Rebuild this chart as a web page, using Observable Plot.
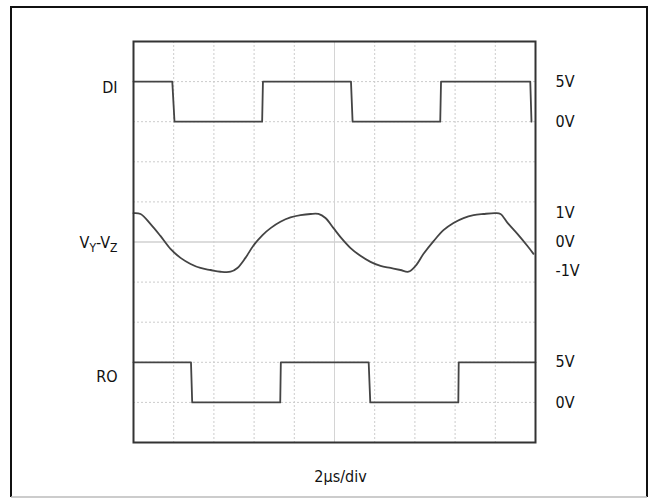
<!DOCTYPE html>
<html><head><meta charset="utf-8">
<script src="https://cdn.jsdelivr.net/npm/d3@7"></script>
<script src="https://cdn.jsdelivr.net/npm/@observablehq/plot@0.6"></script>
<style>body{margin:0;background:#fff} svg{display:block}</style>
</head><body><div id="chart"></div>
<script>
// time in microseconds (2 µs/div, 10 divisions)
const timeGrid = [0, 2, 4, 6, 8, 10, 12, 14, 16, 18, 20];
const divGrid = [0, 1, 2, 3, 4, 5, 6, 7, 8, 9, 10];

// DI trace (volts)
const diT = [0, 1.93, 2.04, 6.40, 6.44, 10.82, 10.90, 15.26, 15.30, 19.74, 19.80];
const diV = [5, 5, 0, 0, 5, 5, 0, 0, 5, 5, 0];

// VY-VZ trace (volts)
const vyT = [0, 0.35, 0.85, 1.34, 1.84, 2.34, 2.84, 3.33, 3.83, 4.33, 4.83, 5.17, 5.57, 5.97, 6.42, 6.82, 7.31, 7.81, 8.31, 8.81, 9.20, 9.55, 9.95, 10.30, 10.80, 11.29, 11.79, 12.29, 12.79, 13.28, 13.68, 14.03, 14.43, 14.93, 15.42, 15.92, 16.42, 16.92, 17.41, 18.01, 18.26, 18.61, 19.10, 19.60, 19.90];
const vyV = [1.00, 0.97, 0.62, 0.21, -0.24, -0.55, -0.76, -0.90, -0.97, -1.03, -1.03, -0.90, -0.55, -0.12, 0.24, 0.48, 0.70, 0.85, 0.93, 0.97, 0.97, 0.83, 0.48, 0.17, -0.21, -0.48, -0.69, -0.83, -0.90, -0.97, -1.03, -0.83, -0.41, 0.03, 0.41, 0.66, 0.83, 0.93, 0.97, 1.00, 0.97, 0.66, 0.28, -0.14, -0.41];

// RO trace (volts)
const roT = [0, 2.86, 2.92, 7.30, 7.33, 11.70, 11.78, 16.16, 16.18, 20];
const roV = [5, 5, 0, 0, 5, 5, 0, 0, 5, 5];

// channel labels and scale labels
const channelNames = ["DI", "VY-VZ", "RO"];
const diLevels = [5, 0];
const vyLevels = [1, 0, -1];
const roLevels = [5, 0];
const levelText = v => `${v}V`;
const timebase = "2µs/div";

// vertical placement of each channel on the 10-division screen
const diPos = v => 8 + v / 5;        // 5 V/div, 0 V at division 8
const vyPos = v => 5 + v * 0.72;     // 0 V at centre line
const roPos = v => 1 + v / 5;        // 5 V/div, 0 V at division 1

const FONT = "'Liberation Sans Narrow','DejaVu Sans Condensed','Arial Narrow',sans-serif";
const ink = "#444";

const toRows = (T, V) => T.map((t, i) => ({t, v: V[i]}));

const rightLabels = [
  ...diLevels.map(v => ({y: diPos(v), s: levelText(v)})),
  ...vyLevels.map(v => ({y: vyPos(v), s: levelText(v)})),
  ...roLevels.map(v => ({y: roPos(v), s: levelText(v)}))
];

const chart = Plot.plot({
  width: 649,
  height: 501,
  marginLeft: 133,
  marginRight: 114,
  marginTop: 41,
  marginBottom: 59,
  style: {fontFamily: FONT, background: "#fff"},
  x: {domain: [0, 20], axis: null},
  y: {domain: [0, 10], axis: null},
  marks: [
    Plot.ruleX(timeGrid.filter(t => t !== 10), {stroke: "#cccccc", strokeDasharray: "2,2", strokeWidth: 1}),
    Plot.ruleY(divGrid.filter(d => d !== 5), {stroke: "#cccccc", strokeDasharray: "2,2", strokeWidth: 1}),
    Plot.ruleX([10], {stroke: "#d4d4d4", strokeWidth: 1}),
    Plot.ruleY([5], {stroke: "#d0d0d0", strokeWidth: 1.5}),
    Plot.line(toRows(diT, diV), {x: "t", y: d => diPos(d.v), stroke: ink, strokeWidth: 1.8}),
    Plot.line(toRows(vyT, vyV), {x: "t", y: d => vyPos(d.v), stroke: ink, strokeWidth: 1.8, curve: "catmull-rom"}),
    Plot.line(toRows(roT, roV), {x: "t", y: d => roPos(d.v), stroke: ink, strokeWidth: 1.8}),
    Plot.frame({stroke: "#333", strokeWidth: 2}),
    // channel names on the left
    Plot.text([channelNames[0]], {frameAnchor: "left", y: diPos(5), text: d => d, textAnchor: "end", dx: -16, dy: 6, fontSize: 16, fill: "#111"}),
    Plot.text([channelNames[1]], {frameAnchor: "left", y: vyPos(0), text: d => d, textAnchor: "end", dx: -16, dy: 1, fontSize: 16, fill: "#111"}),
    Plot.text([channelNames[2]], {frameAnchor: "left", y: roPos(5), text: d => d, textAnchor: "end", dx: -16, dy: 15, fontSize: 16, fill: "#111"}),
    // level labels on the right
    Plot.text(rightLabels, {frameAnchor: "right", y: "y", text: "s", textAnchor: "start", dx: 20, fontSize: 16, fill: "#111"}),
    // time base
    Plot.text([timebase], {x: 10, frameAnchor: "bottom", text: d => d, dy: 39, dx: 6, fontSize: 16, fill: "#111"})
  ]
});

// subscripts for VY-VZ
d3.select(chart).selectAll("text").each(function() {
  if (this.textContent === "VY-VZ") {
    const t = d3.select(this);
    t.text(null);
    t.append("tspan").text("V");
    t.append("tspan").attr("font-size", 12).attr("dy", 4).text("Y");
    t.append("tspan").attr("dy", -4).text("-V");
    t.append("tspan").attr("font-size", 12).attr("dy", 4).text("Z");
  }
});

// outer border of the figure
const svg = d3.select(chart);
svg.append("path").attr("d", "M11,497 L11,7 L647,7 L647,497")
  .attr("fill", "none").attr("stroke", "#111").attr("stroke-width", 2);
svg.append("line").attr("x1", 11).attr("x2", 647).attr("y1", 497).attr("y2", 497)
  .attr("stroke", "#bbb").attr("stroke-width", 1.5);

document.getElementById("chart").appendChild(chart);
</script>
</body></html>
